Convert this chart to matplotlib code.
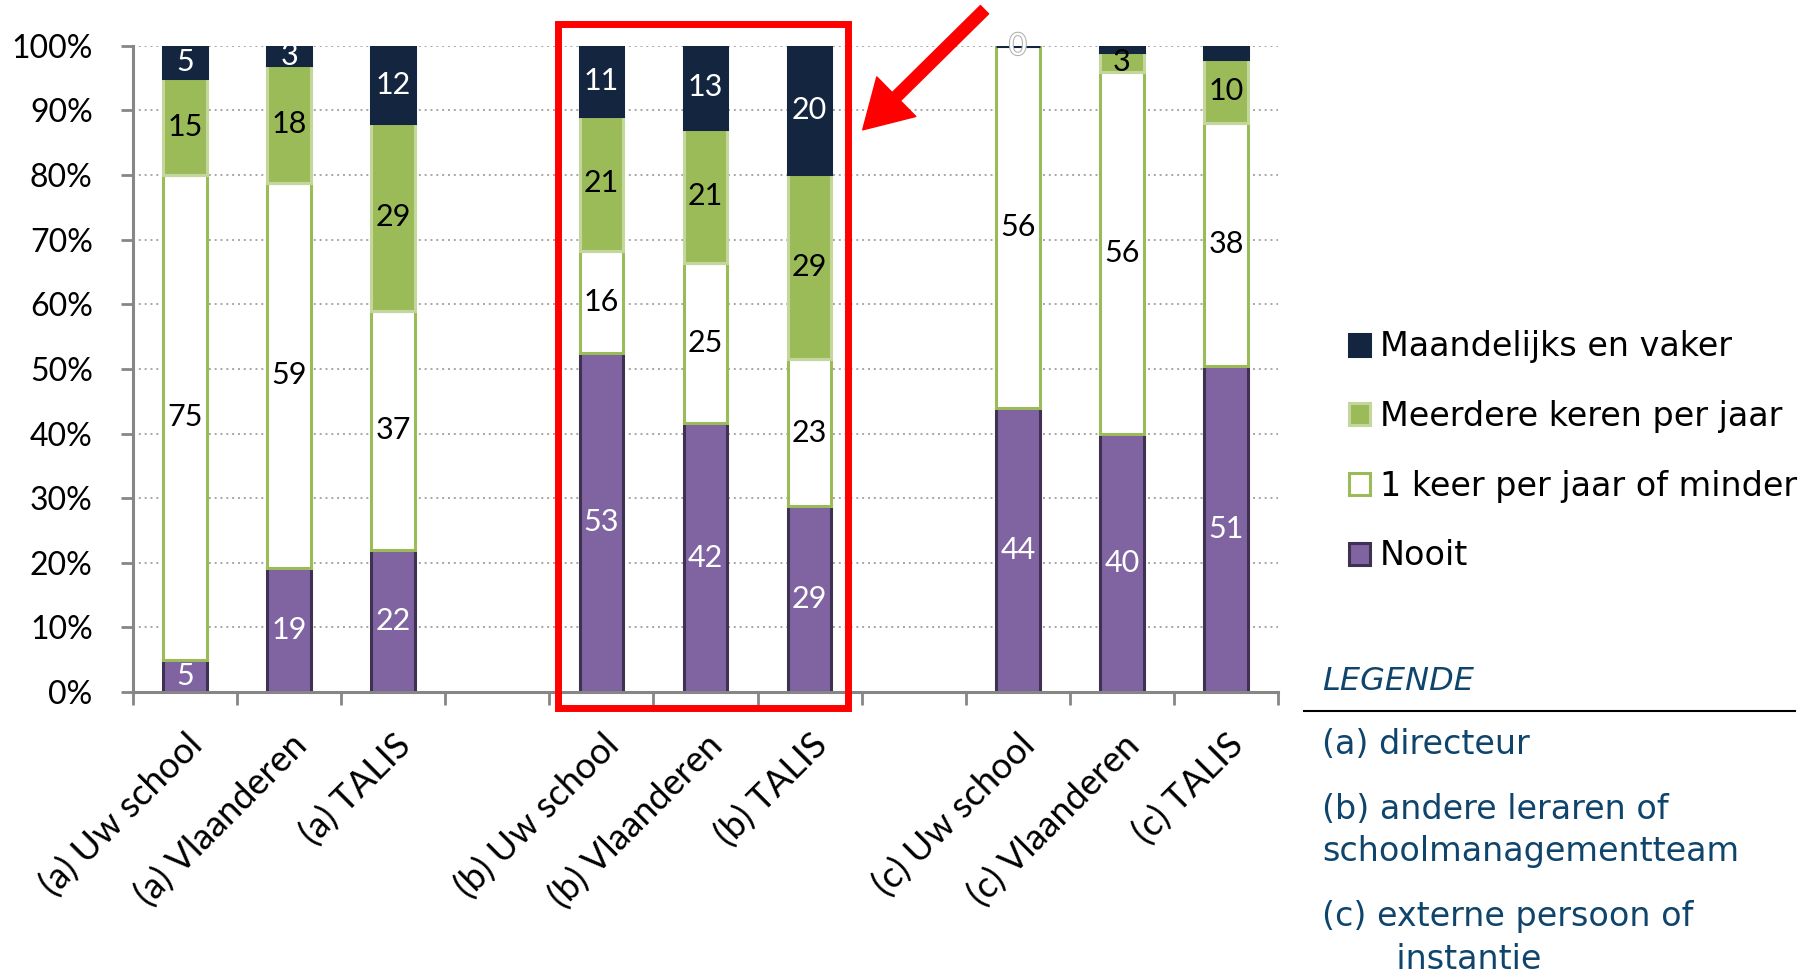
import matplotlib
matplotlib.use('agg')
import matplotlib.pyplot as plt
import matplotlib.patches as mpatches
import matplotlib.patheffects as pe
from matplotlib.lines import Line2D
import numpy as np

# categories, grouped per respondent type (a), (b), (c)
categories = ['(a) Uw school', '(a) Vlaanderen', '(a) TALIS',
              '(b) Uw school', '(b) Vlaanderen', '(b) TALIS',
              '(c) Uw school', '(c) Vlaanderen', '(c) TALIS']

nooit       = [5, 19, 22, 53, 42, 29, 44, 40, 51]
een_keer    = [75, 59, 37, 16, 25, 23, 56, 56, 38]
meerdere    = [15, 18, 29, 21, 21, 29, 0, 3, 10]
maandelijks = [5, 3, 12, 11, 13, 20, 0, 1, 2]

series_names = ['Nooit', '1 keer per jaar of minder',
                'Meerdere keren per jaar', 'Maandelijks en vaker']
yticks = [0, 10, 20, 30, 40, 50, 60, 70, 80, 90, 100]

legende = ['(a) directeur', '(b) andere leraren of\nschoolmanagementteam',
           '(c) externe persoon of\n       instantie']

CHART_FONT = ['Lato', 'DejaVu Sans']
fills = ['#8064A2', '#FFFFFF', '#9BBB59', '#14263F']
edges = ['#3F3151', '#9BBB59', '#C3D69B', '#14263F']
txtcol = ['white', 'black', 'black', 'white']

data = np.array([nooit, een_keer, meerdere, maandelijks], dtype=float)
shares = data / data.sum(axis=0) * 100   # 100% stacked, like Excel

pos = np.array([i + i // 3 for i in range(len(categories))])

fig = plt.figure(figsize=(18.09, 9.76), dpi=100)
ax = fig.add_axes([0.0735, 0.291, 0.633, 0.662])

bottom = np.zeros(len(categories))
for k in range(4):
    ax.bar(pos, shares[k], bottom=bottom, width=0.42, color=fills[k],
           edgecolor=edges[k], linewidth=2.2, zorder=2)
    for x, b, h, v in zip(pos, bottom, shares[k], data[k]):
        if v >= 3:
            ax.text(x, b + h / 2, f'{v:.0f}', ha='center', va='center',
                    fontsize=22, color=txtcol[k], family=CHART_FONT, zorder=4)
    bottom += shares[k]

# the lonely zero label on (c) Uw school
ax.text(pos[6], 100, '0', ha='center', va='center', fontsize=22, color='white',
        family=CHART_FONT, zorder=4,
        path_effects=[pe.withStroke(linewidth=1.5, foreground='#B0B0B0')])

ax.set_xlim(-0.5, 10.5)
ax.set_ylim(0, 100)
ax.set_yticks(yticks)
ax.set_yticklabels([f'{t}%' for t in yticks], family=CHART_FONT, fontsize=23)
ax.set_xticks(np.arange(-0.5, 11, 1))
ax.set_xticklabels([])
ax.set_xticks(pos, minor=True)
ax.set_xticklabels(categories, minor=True, rotation=45, ha='right',
                   rotation_mode='anchor', family=CHART_FONT, fontsize=26)
ax.tick_params(axis='x', which='major', length=9, width=2, color='#868686')
ax.tick_params(axis='x', which='minor', length=0, pad=26)
ax.tick_params(axis='y', length=9, width=2, color='#868686', pad=20)
for s in ['top', 'right']:
    ax.spines[s].set_visible(False)
for s in ['left', 'bottom']:
    ax.spines[s].set_color('#868686')
    ax.spines[s].set_linewidth(2.2)
ax.yaxis.grid(True, linestyle=(0, (1, 2)), color='#A6A6A6', linewidth=1.4)
ax.set_axisbelow(True)

# red highlight box round group (b) plus arrow
ax.add_patch(mpatches.Rectangle((3.58, -2.5), 2.785, 105.9, fill=False,
                                edgecolor='red', linewidth=5, clip_on=False, zorder=5))
ax.annotate('', xy=(6.51, 87), xytext=(7.68, 105.6), annotation_clip=False,
            arrowprops=dict(arrowstyle='simple,head_length=1.7,head_width=2.0,tail_width=0.42',
                            color='red', mutation_scale=20, shrinkA=0, shrinkB=0))

# legend of the series, top to bottom
handles = [mpatches.Patch(facecolor=fills[k], edgecolor=edges[k], linewidth=2.2,
                          label=series_names[k]) for k in [3, 2, 1, 0]]
fig.legend(handles=handles, loc='upper left', bbox_to_anchor=(0.7457, 0.6615),
           frameon=False, handlelength=0.63, handleheight=0.63,
           handletextpad=0.3, labelspacing=1.1, borderpad=0, borderaxespad=0,
           prop={'family': 'DejaVu Sans', 'size': 24})

blue = '#0F456C'
fig.text(1322 / 1809, 1 - 681 / 976, 'LEGENDE', style='italic', color=blue,
         fontsize=23, family='DejaVu Sans', va='center')
fig.add_artist(Line2D([1304 / 1809, 1795 / 1809], [1 - 711 / 976] * 2,
                      color='black', linewidth=1.5))
ys = [744, 830.5, 938]
for t, y in zip(legende, ys):
    fig.text(1322 / 1809, 1 - y / 976, t, color=blue, fontsize=24,
             family='DejaVu Sans', va='center', linespacing=1.35)

fig.savefig('out.png', dpi=100)
